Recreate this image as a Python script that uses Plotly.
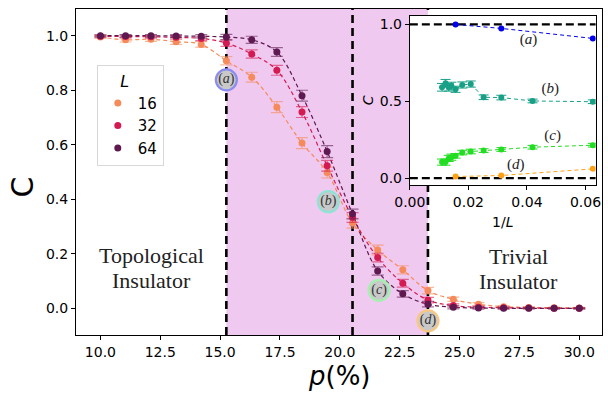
import plotly.graph_objects as go

# ---------------- data ----------------
p_vals = [10.0, 11.05, 12.11, 13.16, 14.21, 15.26, 16.32, 17.37, 18.42, 19.47,
          20.53, 21.58, 22.63, 23.68, 24.74, 25.79, 26.84, 27.89, 28.95, 30.0]
C_L16 = [0.995, 0.985, 0.987, 0.978, 0.968, 0.908, 0.848, 0.738, 0.606, 0.498,
         0.312, 0.214, 0.141, 0.065, 0.033, 0.015, 0.006, 0.003, 0.002, 0.001]
C_L32 = [0.998, 0.997, 0.996, 0.994, 0.990, 0.973, 0.933, 0.873, 0.720, 0.523,
         0.333, 0.186, 0.092, 0.030, 0.010, 0.004, 0.002, 0.001, 0.000, 0.000]
C_L64 = [1.000, 1.000, 1.000, 0.999, 0.998, 0.995, 0.985, 0.940, 0.780, 0.575,
         0.346, 0.137, 0.053, 0.015, 0.004, 0.001, 0.000, 0.000, 0.000, 0.000]
err_L16 = [0.005, 0.008, 0.008, 0.01, 0.01, 0.015, 0.018, 0.02, 0.02, 0.02,
           0.018, 0.018, 0.015, 0.012, 0.008, 0.006, 0.004, 0.003, 0.002, 0.002]
err_L32 = [0.004, 0.005, 0.005, 0.006, 0.008, 0.012, 0.015, 0.018, 0.02, 0.02,
           0.018, 0.016, 0.014, 0.01, 0.006, 0.004, 0.003, 0.002, 0.002, 0.002]
err_L64 = [0.003, 0.004, 0.004, 0.005, 0.006, 0.01, 0.013, 0.016, 0.02, 0.022,
           0.018, 0.015, 0.012, 0.01, 0.006, 0.004, 0.003, 0.002, 0.002, 0.002]
L_labels = ["16", "32", "64"]

phase_bounds = [15.26, 20.53, 23.68]

mark_labels = ["a", "b", "c", "d"]
mark_p = [15.26, 19.52, 21.64, 23.68]
mark_C = [0.838, 0.391, 0.066, -0.046]

# inset: C vs 1/L
invL_ad = [0.015625, 0.03125, 0.0625]
inset_a = [1.000, 0.974, 0.909]
inset_d = [0.010, 0.017, 0.060]
invL_bc = [0.0110, 0.0122, 0.0133, 0.0142, 0.015625, 0.0179, 0.0208, 0.0252,
           0.03125, 0.0419, 0.0625]
inset_b = [0.591, 0.617, 0.591, 0.599, 0.578, 0.606, 0.612, 0.526, 0.524, 0.502, 0.497]
inset_c = [0.104, 0.104, 0.128, 0.136, 0.145, 0.166, 0.173, 0.179, 0.186, 0.201, 0.214]
err_b = [0.025, 0.025, 0.025, 0.025, 0.02, 0.02, 0.02, 0.015, 0.015, 0.012, 0.012]
err_c = [0.02, 0.02, 0.02, 0.02, 0.015, 0.015, 0.015, 0.012, 0.012, 0.012, 0.012]
inset_label_x = [0.0405, 0.0480, 0.0488, 0.0362]
inset_label_y = [0.894, 0.578, 0.270, 0.086]

# ---------------- styles ----------------
col_L = ["#f58b5a", "#d31b52", "#5e1a50"]
col_L_err = ["rgba(245,139,90,0.6)", "rgba(211,27,82,0.6)", "rgba(94,26,80,0.6)"]
col_inset = ["#0000ee", "#17a086", "#22dd22", "#ffa114"]
col_ring = ["#8a8cf0", "#90e2d4", "#a6efb2", "#f8c882"]
shade = "#f0c9f0"

# plot area in pixels (608x395 canvas)
L_M, R_M, T_M, B_M = 76, 1, 9, 60
W, H = 608, 395
pw, ph = W - L_M - R_M, H - T_M - B_M
def px_x(x):
    return (x - L_M) / pw
def px_y(y):
    return (H - B_M - y) / ph

fig = go.Figure()

series = [C_L16, C_L32, C_L64]
errs = [err_L16, err_L32, err_L64]
for i in range(3):
    fig.add_trace(go.Scatter(
        x=p_vals, y=series[i], mode="lines", line=dict(color=col_L[i], width=1.2, dash="4px,3px",
        shape="spline", smoothing=1.0), showlegend=False, hoverinfo="skip"))
for i in range(3):
    fig.add_trace(go.Scatter(
        x=p_vals, y=series[i], mode="markers", name=L_labels[i],
        marker=dict(color=col_L[i], size=7),
        error_y=dict(type="data", array=errs[i], color=col_L_err[i], thickness=1.2, width=6)))

# circled labels in main panel
for i in range(4):
    fig.add_trace(go.Scatter(
        x=[mark_p[i]], y=[mark_C[i]], mode="markers+text",
        marker=dict(size=21, color="#c9c9c9", line=dict(color=col_ring[i], width=2.2)),
        text=["(<i>%s</i>)" % mark_labels[i]], textposition="middle center",
        textfont=dict(family="Liberation Serif", size=14, color="#333333"),
        showlegend=False, hoverinfo="skip"))

# inset traces
inset_x = [invL_ad, invL_bc, invL_bc, invL_ad]
inset_y = [inset_a, inset_b, inset_c, inset_d]
inset_err = [None, err_b, err_c, None]
for i in range(4):
    ey = dict(type="data", array=inset_err[i], color=col_inset[i], thickness=1, width=5) \
        if inset_err[i] is not None else None
    fig.add_trace(go.Scatter(
        x=inset_x[i], y=inset_y[i], xaxis="x2", yaxis="y2", mode="lines+markers",
        line=dict(color=col_inset[i], width=1, dash="4px,3px"),
        marker=dict(color=col_inset[i], size=6), error_y=ey,
        showlegend=False, hoverinfo="skip"))
fig.add_trace(go.Scatter(
    x=inset_label_x, y=inset_label_y, xaxis="x2", yaxis="y2", mode="text",
    text=["(<i>%s</i>)" % s for s in mark_labels], textposition="middle center",
    textfont=dict(family="Liberation Serif", size=15, color="#222222"),
    showlegend=False, hoverinfo="skip"))

# inset placement
ix0, ix1, iy0, iy1 = 413, 600.7, 16, 185

shapes = [
    dict(type="rect", xref="x", yref="paper", x0=phase_bounds[0], x1=phase_bounds[2], y0=0, y1=1,
         fillcolor=shade, line=dict(width=0), layer="below"),
]
for xb in phase_bounds:
    shapes.append(dict(type="line", xref="x", yref="paper", x0=xb, x1=xb, y0=0, y1=1,
                       line=dict(color="black", width=2.6, dash="8px,5px"), layer="below"))
shapes.append(dict(type="rect", xref="paper", yref="paper", x0=px_x(ix0), x1=px_x(ix1),
                   y0=px_y(iy1), y1=px_y(iy0), fillcolor="white", line=dict(width=0), layer="below"))
for yv in [0.0, 1.0]:
    shapes.append(dict(type="line", xref="x2", yref="y2", x0=0, x1=0.0635, y0=yv, y1=yv,
                       line=dict(color="black", width=2.2, dash="8px,4px"), layer="below"))

axis_common = dict(showgrid=False, zeroline=False, showline=True, linecolor="black", linewidth=1,
                   mirror=True, ticks="outside", ticklen=4, tickcolor="black",
                   tickfont=dict(family="DejaVu Sans", size=14, color="black"))

serif = dict(family="Liberation Serif", size=22, color="#222222")
annotations = [
    dict(text="C", x=px_x(21), y=px_y(187), xref="paper", yref="paper", showarrow=False,
         textangle=-90, font=dict(family="DejaVu Sans", size=30, color="black"),
         xanchor="center", yanchor="middle"),
    dict(text="<i>p</i>(%)", x=0.5, y=px_y(359), xref="paper", yref="paper", showarrow=False,
         font=dict(family="DejaVu Sans", size=26, color="black"), xanchor="center", yanchor="top"),
    dict(text="<i>C</i>", x=px_x(371), y=px_y(100), xref="paper", yref="paper", showarrow=False,
         textangle=-90, font=dict(family="DejaVu Sans", size=14, color="black"),
         xanchor="center", yanchor="middle"),
    dict(text="1/<i>L</i>", x=px_x(507), y=px_y(222), xref="paper", yref="paper", showarrow=False,
         font=dict(family="DejaVu Sans", size=14, color="black"), xanchor="center", yanchor="middle"),
    dict(text="Topological", x=px_x(152), y=px_y(255), xref="paper", yref="paper", showarrow=False,
         font=serif, xanchor="center", yanchor="middle"),
    dict(text="Insulator", x=px_x(152), y=px_y(280), xref="paper", yref="paper", showarrow=False,
         font=serif, xanchor="center", yanchor="middle"),
    dict(text="Trivial", x=px_x(523), y=px_y(256), xref="paper", yref="paper", showarrow=False,
         font=serif, xanchor="center", yanchor="middle"),
    dict(text="Insulator", x=px_x(523), y=px_y(281), xref="paper", yref="paper", showarrow=False,
         font=serif, xanchor="center", yanchor="middle"),
]

fig.update_layout(
    width=W, height=H, margin=dict(l=L_M, r=R_M, t=T_M, b=B_M),
    paper_bgcolor="white", plot_bgcolor="white",
    shapes=shapes, annotations=annotations,
    xaxis=dict(domain=[0, 1], range=[8.98, 30.95], tickvals=[10, 12.5, 15, 17.5, 20, 22.5, 25, 27.5, 30],
               tickformat=".1f", **axis_common),
    yaxis=dict(domain=[0, 1], range=[-0.098, 1.098], tickvals=[0, 0.2, 0.4, 0.6, 0.8, 1.0],
               tickformat=".1f", **axis_common),
    xaxis2=dict(domain=[px_x(ix0), px_x(ix1)], anchor="y2", range=[0, 0.0635],
                tickvals=[0, 0.02, 0.04, 0.06], tickformat=".2f", **axis_common),
    yaxis2=dict(domain=[px_y(iy1), px_y(iy0)], anchor="x2", range=[-0.045, 1.055],
                tickvals=[0, 0.5, 1.0], tickformat=".1f", **axis_common),
    legend=dict(x=px_x(97), y=px_y(65), xanchor="left", yanchor="top",
                bgcolor="white", bordercolor="#d8d8d8", borderwidth=1,
                title=dict(text="    <i>L</i>", font=dict(family="DejaVu Sans", size=16)),
                font=dict(family="DejaVu Sans", size=15, color="black"),
                itemwidth=30),
)

fig.write_html("out.html")
